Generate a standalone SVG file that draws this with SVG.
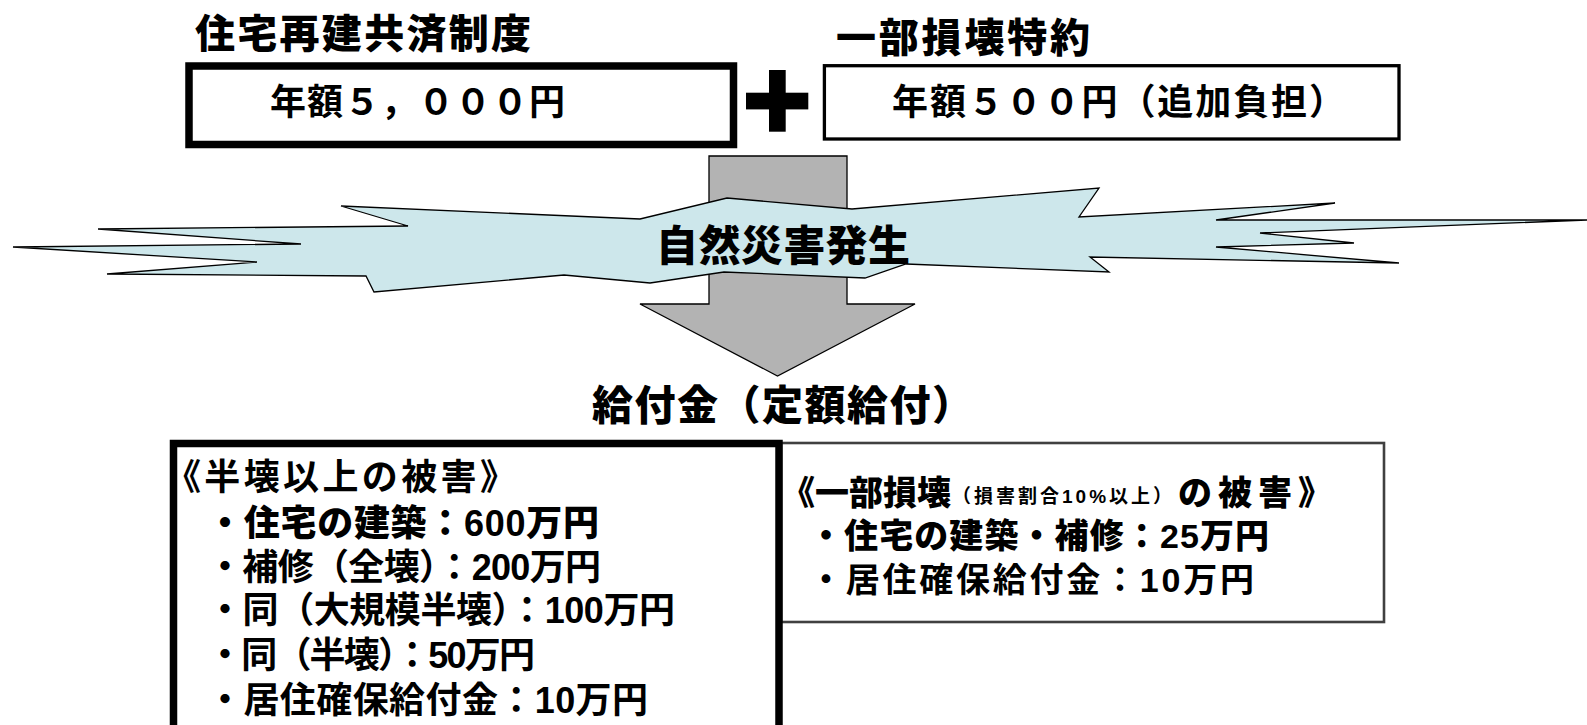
<svg xmlns="http://www.w3.org/2000/svg" width="1587" height="725" viewBox="0 0 1587 725">
<style>
text{font-family:"Liberation Sans","Noto Sans CJK JP","Noto Sans CJK SC",sans-serif;fill:#000}
.h{font-weight:900}
.b{font-weight:700}
.thick{fill:#fff;stroke:#000;stroke-width:7.5}
.thin{fill:#fff;stroke:#000;stroke-width:3.3}
</style>
<rect width="1587" height="725" fill="#fff"/>
<g id="connectors">
<polygon id="down-arrow" points="709,156 847,156 847,304 915,304 777.5,376 640,304 709,304" fill="#B3B3B3" stroke="#000" stroke-width="1.3"/>
</g>
<g id="title-main"><text class="h" x="195" y="48" font-size="40" textLength="336">住宅再建共済制度</text></g>
<g id="box-main">
<rect class="thick" x="189" y="66" width="544.5" height="78.5"/>
<text class="b" x="270" y="115" font-size="36" textLength="295">年額５，０００円</text>
</g>
<g id="plus">
<rect x="746" y="92.7" width="62.3" height="16.7" fill="#000"/>
<rect x="769" y="70" width="16.7" height="61.7" fill="#000"/>
</g>
<g id="title-rider"><text class="h" x="836" y="52" font-size="40" textLength="254">一部損壊特約</text></g>
<g id="box-rider">
<rect class="thin" x="824.4" y="65.7" width="574.6" height="73.3"/>
<text class="b" x="892" y="115" font-size="36" textLength="453">年額５００円（追加負担）</text>
</g>
<g id="disaster">
<polygon points="13,247 301,244 98,229 408,226 341,206 640,219 727,198 852,209 1099,188 1079,217 1335,203 1216,220 1587,220 1260,233 1354,243 1216,247 1399,263 1090,257 1109,272 906,264 865,278 724,272 650,283 564,275 374,292 366,276 107,274 257,262" fill="#CDE7EB" stroke="#000" stroke-width="1.3" stroke-linejoin="miter"/>
<text class="h" x="656" y="261" font-size="42" textLength="254">自然災害発生</text>
</g>
<g id="benefit-title"><text class="h" x="592" y="420" font-size="41" textLength="381">給付金（定額給付）</text></g>
<g id="box-partial">
<rect x="781" y="443" width="603" height="179" fill="#fff" stroke="#404040" stroke-width="2.6"/>
<text class="h" y="505" font-size="34"><tspan x="781">《一部損壊</tspan><tspan x="952" font-size="19" class="b" dy="-2" letter-spacing="3">（損害割合10%以上）</tspan><tspan x="1178" dy="2" letter-spacing="6">の被害》</tspan></text>
<text class="h" x="809" y="548" font-size="34" textLength="460">・住宅の建築・補修：25万円</text>
<text class="b" x="809" y="592" font-size="34" textLength="445">・居住確保給付金：10万円</text>
</g>
<g id="box-half">
<rect class="thick" x="173.5" y="443.5" width="605.5" height="320"/>
<text class="b" x="165" y="490" font-size="36" textLength="351">《半壊以上の被害》</text>
<text class="h" x="207" y="536" font-size="36" textLength="392">・住宅の建築：600万円</text>
<text class="b" x="207" y="580" font-size="36" textLength="394">・補修（全壊）：200万円</text>
<text class="b" x="207" y="623" font-size="36" textLength="468">・同（大規模半壊）：100万円</text>
<text class="b" x="207" y="668" font-size="36" textLength="328">・同（半壊）：50万円</text>
<text class="b" x="207" y="713" font-size="36" textLength="441">・居住確保給付金：10万円</text>
</g>
</svg>
